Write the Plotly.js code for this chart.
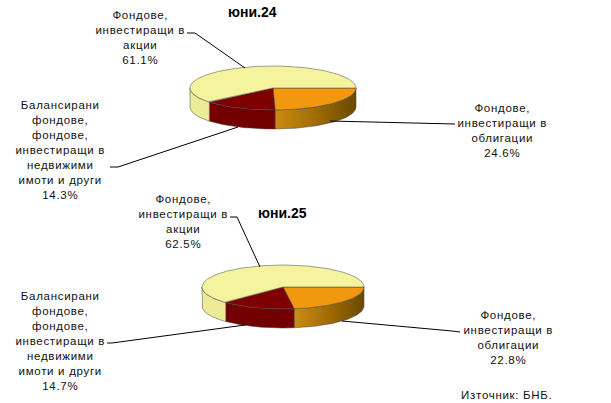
<!DOCTYPE html>
<html>
<head>
<meta charset="utf-8">
<script src="https://cdn.plot.ly/plotly-3.0.1.min.js"></script>
<style>html,body{margin:0;padding:0;background:#fff;}</style>
</head>
<body>
<div id="chart" style="width:611px;height:403px;"></div>
<script>
// ---- data ----
const categories = [
  'Фондове,\nинвестиращи в\nоблигации',
  'Балансирани\nфондове,\nфондове,\nинвестиращи в\nнедвижими\nимоти и други',
  'Фондове,\nинвестиращи в\nакции'
];
const periods = ['юни.24', 'юни.25'];
const values24 = [24.6, 14.3, 61.1];
const values25 = [22.8, 14.7, 62.5];
const sourceText = 'Източник: БНБ.';

// ---- style / layout config ----
const topColors = ['#f2980e', '#7e0000', '#f4f49e'];
const wallColors = [null, '#720000', '#ebeb98'];
const wallGradient = {type: 'horizontal', colorscale: [[0, '#cc8c12'], [0.5, '#a06c04'], [1, '#6a4800']]};
const edge = {color: 'rgba(70,70,70,0.85)', width: 0.6};
const font = {family: 'Liberation Sans, Arial, sans-serif', size: 11.5, color: '#111'};

const pies = [
  {vals: values24, cx: 273, cy: 88, rx: 83, ry: 22, depth: 19,
   title: [252, 12],
   labels: [[502, 130], [60, 150], [140, 37]],
   leaders: ['M 330 121 L 455 124', 'M 110 167 L 118 167 L 238 127', 'M 187 33 L 195 33 L 245 68']},
  {vals: values25, cx: 283, cy: 287, rx: 81, ry: 22, depth: 19,
   title: [282, 213],
   labels: [[508, 337], [60, 341], [183, 221]],
   leaders: ['M 342 321 L 452 331 L 460 332', 'M 107 343 L 112 343 L 245 325', 'M 230 217 L 237 217 L 260 267']}
];

const traces = [];
const annotations = [];
const shapes = [];

function arc(p, a0, a1, dy) {
  const xs = [], ys = [];
  const n = Math.max(2, Math.ceil((a1 - a0) / 0.02));
  for (let i = 0; i <= n; i++) {
    const t = a0 + (a1 - a0) * i / n;
    xs.push(p.cx + p.rx * Math.cos(t));
    ys.push(p.cy + p.ry * Math.sin(t) + dy);
  }
  return [xs, ys];
}

pies.forEach((p, pi) => {
  const total = p.vals.reduce((a, b) => a + b, 0);
  let cum = 0;
  const angles = p.vals.map(v => {
    const a0 = cum / total * 2 * Math.PI;
    cum += v;
    return [a0, cum / total * 2 * Math.PI];
  });
  // walls (front half only)
  angles.forEach(([a0, a1], i) => {
    const w0 = Math.max(a0, 0), w1 = Math.min(a1, Math.PI);
    if (w1 <= w0) return;
    const [tx, ty] = arc(p, w0, w1, 0);
    const [bx, by] = arc(p, w0, w1, p.depth);
    const tr = {
      x: tx.concat(bx.reverse(), [tx[0]]),
      y: ty.concat(by.reverse(), [ty[0]]),
      mode: 'lines', fill: 'toself', line: edge, hoverinfo: 'skip',
      fillcolor: wallColors[i] || topColors[i]
    };
    if (i === 0) tr.fillgradient = wallGradient;
    traces.push(tr);
  });
  // top faces
  angles.forEach(([a0, a1], i) => {
    const [ax, ay] = arc(p, a0, a1, 0);
    traces.push({
      x: [p.cx].concat(ax, [p.cx]),
      y: [p.cy].concat(ay, [p.cy]),
      mode: 'lines', fill: 'toself', fillcolor: topColors[i],
      line: edge, hoverinfo: 'skip'
    });
  });
  // labels
  p.vals.forEach((v, i) => {
    annotations.push({
      x: p.labels[i][0], y: p.labels[i][1], xref: 'x', yref: 'y',
      text: categories[i].split('\n').join('<br>') + '<br>' + v.toFixed(1) + '%',
      showarrow: false, xanchor: 'center', yanchor: 'middle', align: 'center', font: font
    });
    shapes.push({type: 'path', xref: 'x', yref: 'y', path: p.leaders[i], line: {color: '#000', width: 1}});
  });
  annotations.push({
    x: p.title[0], y: p.title[1], xref: 'x', yref: 'y', text: '<b>' + periods[pi] + '</b>',
    showarrow: false, xanchor: 'center', yanchor: 'middle',
    font: {family: 'Liberation Sans, Arial, sans-serif', size: 14, color: '#000'}
  });
});

annotations.push({
  x: 507, y: 395, xref: 'x', yref: 'y', text: sourceText, showarrow: false,
  xanchor: 'center', yanchor: 'middle', font: font
});

const layout = {
  width: 611, height: 403,
  margin: {l: 0, r: 0, t: 0, b: 0},
  paper_bgcolor: '#fff', plot_bgcolor: '#fff',
  showlegend: false,
  xaxis: {range: [0, 611], visible: false, fixedrange: true},
  yaxis: {range: [403, 0], visible: false, fixedrange: true},
  annotations: annotations,
  shapes: shapes
};

Plotly.newPlot('chart', traces, layout, {displayModeBar: false, staticPlot: true}).then(() => {
  document.querySelectorAll('.annotation-text').forEach(t => {
    if (t.textContent.indexOf('юни') !== 0) t.style.letterSpacing = '0.7px';
  });
});
</script>
</body>
</html>
